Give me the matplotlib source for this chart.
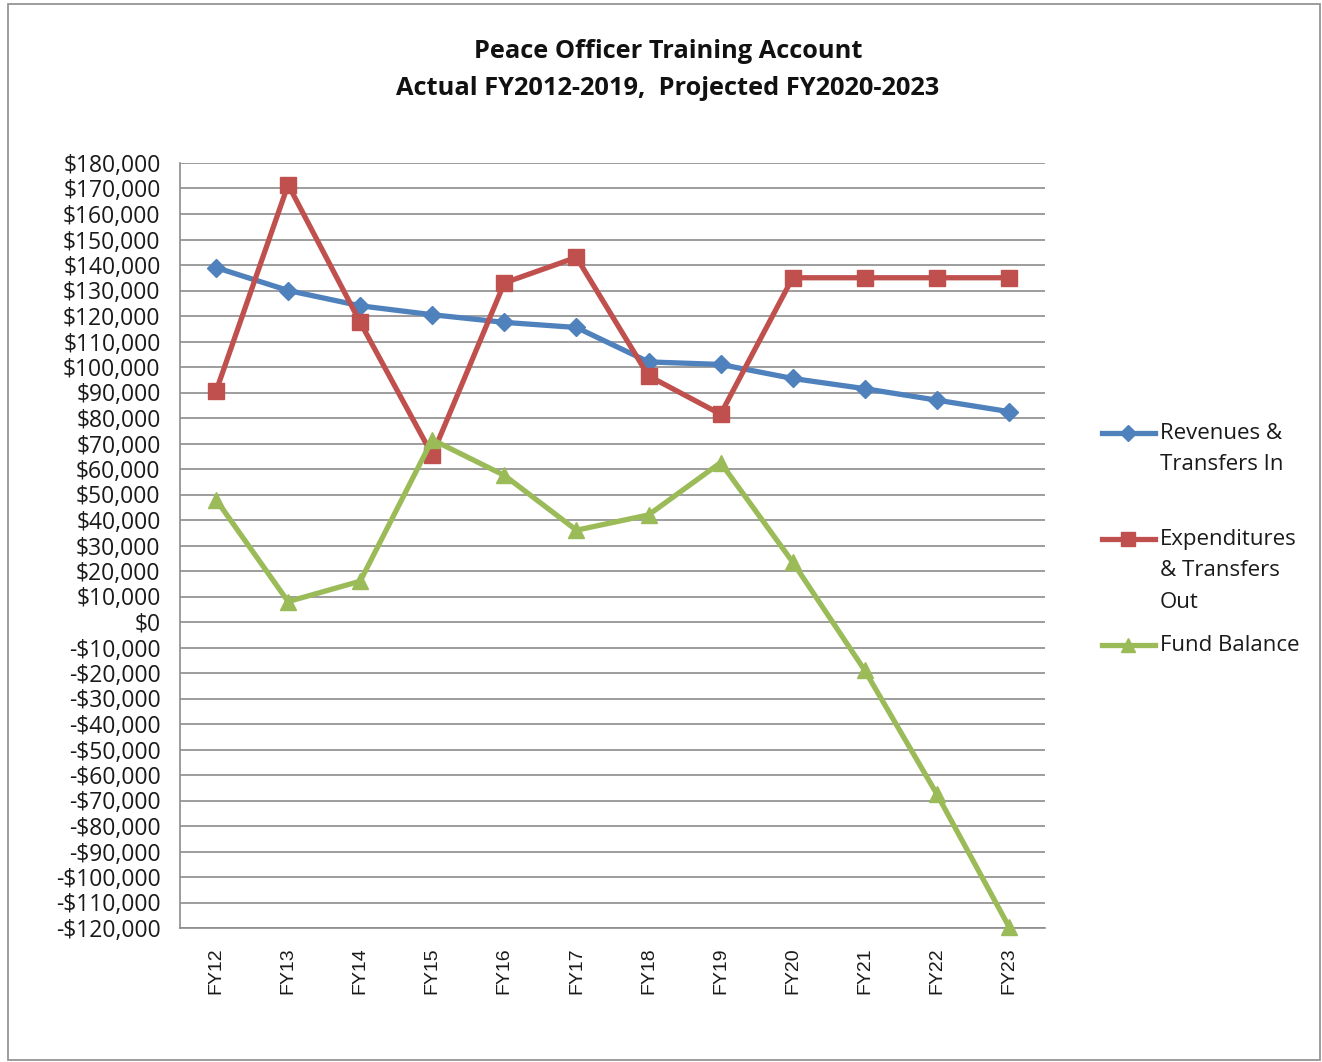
import matplotlib
matplotlib.use("Agg")
import matplotlib.pyplot as plt
from matplotlib.lines import Line2D
from matplotlib.patches import Rectangle
from matplotlib.ticker import FuncFormatter, MultipleLocator

categories = ["FY12", "FY13", "FY14", "FY15", "FY16", "FY17", "FY18", "FY19", "FY20", "FY21", "FY22", "FY23"]
revenues = [139000, 130000, 124000, 120500, 117500, 115500, 102000, 101000, 95500, 91500, 87000, 82500]
expenditures = [90500, 171500, 117500, 65500, 133000, 143000, 96500, 81500, 135000, 135000, 135000, 135000]
fund_balance = [48000, 8000, 16000, 71500, 57500, 36000, 42000, 62500, 23500, -19000, -67500, -119500]

series_labels = ["Revenues &\nTransfers In", "Expenditures\n& Transfers\nOut", "Fund Balance"]
colors = ["#4F81BD", "#C0504D", "#9BBB59"]
markers = ["D", "s", "^"]
msizes = [9, 12, 12]

title = "Peace Officer Training Account\nActual FY2012-2019,  Projected FY2020-2023"

W, H = 1322, 1062
fig = plt.figure(figsize=(W / 100, H / 100), dpi=100)
fig.patch.set_facecolor("white")
fig.add_artist(Rectangle((8 / W, 2 / H), (1320 - 8) / W, (1058 - 2) / H, transform=fig.transFigure,
                         fill=False, edgecolor="#8c8c8c", linewidth=1.2))

ax = fig.add_axes([180 / W, 1 - 928 / H, (1045 - 180) / W, (928 - 163) / H])
x = list(range(len(categories)))
for vals, c, m, ms in zip([revenues, expenditures, fund_balance], colors, markers, msizes):
    ax.plot(x, vals, color=c, marker=m, markersize=ms, linewidth=3.8, clip_on=False, zorder=3)

ax.set_xlim(-0.5, len(categories) - 0.5)
ax.set_ylim(-120000, 180000)
ax.yaxis.set_major_locator(MultipleLocator(10000))
ax.yaxis.set_major_formatter(FuncFormatter(lambda v, p: ("-$" if v < 0 else "$") + f"{abs(int(round(v))):,}"))
ax.grid(axis="y", color="#8c8c8c", linewidth=1.2)
ax.set_axisbelow(True)
for s in ["top", "right"]:
    ax.spines[s].set_visible(False)
for s in ["left", "bottom"]:
    ax.spines[s].set_color("#8c8c8c")
    ax.spines[s].set_linewidth(1.2)
ax.set_xticks(x)
ax.set_xticklabels(categories, rotation=90, fontsize=14, family="Liberation Sans", color="#1a1a1a")
ax.tick_params(axis="y", length=0, pad=14)
ax.tick_params(axis="x", length=0, pad=14)
for lbl in ax.get_yticklabels():
    lbl.set_fontsize(16.5)
    lbl.set_family("Open Sans")
    lbl.set_color("#1a1a1a")

fig.text(668 / W, 1 - 70 / H, title, ha="center", va="center", fontsize=18.3,
         fontweight="bold", family="Open Sans", linespacing=1.6, color="#111111")

leg_y = [433, 539, 645]
for lab, c, m, ms, yy in zip(series_labels, colors, markers, msizes, leg_y):
    yf = 1 - yy / H
    fig.add_artist(Line2D([1102 / W, 1155 / W], [yf, yf], transform=fig.transFigure, color=c, linewidth=3.8))
    fig.add_artist(Line2D([1128 / W], [yf], transform=fig.transFigure, color=c, marker=m, markersize=ms * 0.85))
    fig.text(1160 / W, 1 - (yy - 10) / H, lab, ha="left", va="top", fontsize=16, family="Open Sans",
             linespacing=1.65, color="#1a1a1a")

fig.savefig("out.png", dpi=100, facecolor="white")
